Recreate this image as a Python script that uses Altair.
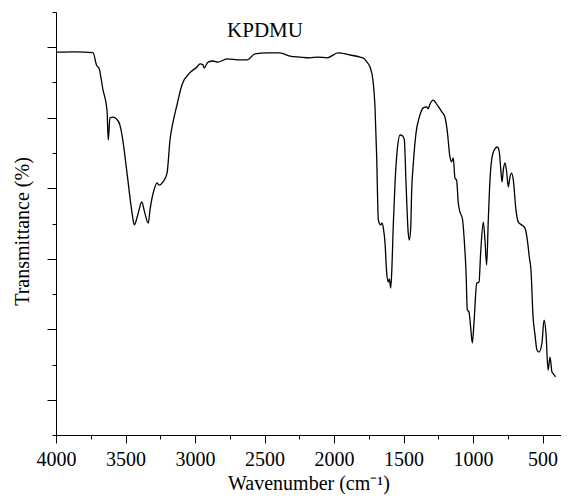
import altair as alt
import pandas as pd

# Wavenumber (cm^-1) and transmittance (arbitrary %)
wavenumber = [4000, 3863, 3734, 3707, 3691, 3662, 3633, 3624, 3612, 3590, 3563, 3540, 3525,
              3489, 3453, 3437, 3410, 3383, 3363, 3336, 3324, 3295, 3273, 3259, 3230,
              3201, 3180, 3158, 3130, 3094, 3036, 2986, 2964, 2942, 2935, 2906, 2871,
              2835, 2770, 2676, 2626, 2568, 2482, 2389, 2317, 2245, 2173, 2115, 2050,
              1971, 1885, 1813, 1784, 1763, 1741, 1720, 1705, 1693, 1681, 1664, 1655,
              1645, 1633, 1621, 1609, 1602, 1592, 1585, 1573, 1561, 1545, 1525, 1506,
              1494, 1482, 1466, 1458, 1448, 1441, 1429, 1410, 1386, 1358, 1333, 1324,
              1309, 1288, 1252, 1223, 1202, 1186, 1166, 1154, 1142, 1130, 1118, 1106,
              1094, 1076, 1063, 1050, 1041, 1029, 1017, 1005, 993, 973, 957, 945, 926,
              914, 902, 890, 878, 866, 847, 825, 811, 801, 791, 782, 770, 758, 746, 734,
              722, 710, 691, 674, 650, 626, 609, 595, 583, 568, 554, 540, 525, 504, 489,
              475, 460, 446, 432, 421, 406]
transmittance = [108.6, 108.7, 108.5, 104.8, 104.1, 97.9, 92.2, 83.7, 89.9, 90.2, 89.6, 87.9, 85.1,
                 74.3, 63.0, 59.6, 62.7, 66.1, 63.3, 60.1, 63.8, 69.5, 71.5, 70.9, 71.8,
                 74.3, 83.7, 88.8, 93.6, 99.3, 102.8, 104.4, 105.3, 105.0, 104.1, 105.8, 106.1,
                 105.8, 106.7, 106.4, 106.4, 108.1, 108.4, 108.4, 107.5, 107.2, 107.0, 107.2, 107.0,
                 108.4, 107.8, 107.2, 106.8, 105.8, 104.4, 100.7, 93.0, 78.9, 61.0, 59.6, 60.1,
                 58.7, 54.5, 46.0, 43.4, 44.3, 41.7, 46.0, 60.1, 71.5, 80.9, 85.1, 84.8,
                 83.7, 71.5, 57.3, 55.3, 59.0, 69.5, 77.2, 85.7, 90.2, 92.8, 93.1, 92.5,
                 93.9, 95.0, 93.3, 91.6, 90.2, 86.5, 78.9, 77.5, 78.6, 72.9, 72.3, 65.8,
                 63.3, 61.3, 55.3, 46.0, 35.5, 34.9, 30.6, 26.1, 31.8, 43.1, 43.4, 51.6, 60.4,
                 55.3, 48.2, 61.0, 72.3, 78.0, 80.9, 81.7, 80.3, 75.7, 71.8, 75.2, 77.2, 74.6, 70.4, 73.2,
                 74.3, 72.3, 63.8, 60.4, 59.6, 58.7, 55.3, 50.5, 46.8, 33.5, 28.4, 24.1, 23.5, 26.1, 32.6,
                 28.9, 18.4, 22.1, 17.9, 17.3, 16.5]

x_major = [4000, 3500, 3000, 2500, 2000, 1500, 1000, 500]
x_minor = [3750, 3250, 2750, 2250, 1750, 1250, 750]
y_major = [10, 30, 50, 70, 90, 110]
y_minor = [0, 20, 40, 60, 80, 100, 120]
sample = "KPDMU"

df = pd.DataFrame({"w": wavenumber, "t": transmittance})
FONT = "Liberation Serif"

xscale = alt.Scale(domain=[367, 4000], reverse=True, nice=False, zero=False)
yscale = alt.Scale(domain=[0, 120], nice=False, zero=False)

common_axis = dict(domainColor="black", tickColor="black", domainWidth=1, tickWidth=1,
                   labelFont=FONT, labelFontSize=20, labelColor="black",
                   titleFont=FONT, titleFontSize=20, titleFontWeight="normal",
                   titleColor="black", grid=False)

line = alt.Chart(df).mark_line(color="black", strokeWidth=1.3, interpolate="monotone").encode(
    x=alt.X("w:Q", scale=xscale,
            axis=alt.Axis(orient="bottom", values=x_major, tickSize=8, format="d",
                          labelFlush=False, labelOverlap=False, labelPadding=6,
                          title="Wavenumber (cm⁻¹)", titlePadding=4, **common_axis)),
    y=alt.Y("t:Q", scale=yscale,
            axis=alt.Axis(orient="left", values=y_major, tickSize=9, labels=False,
                          title="Transmittance (%)", titlePadding=14, titleY=219,
                          **common_axis)),
    order="w:O",
)

minor = alt.Chart(df).mark_line(strokeOpacity=0).encode(
    x=alt.X("w:Q", scale=xscale,
            axis=alt.Axis(orient="bottom", values=x_minor, tickSize=4, labels=False,
                          domain=False, title=None, **common_axis)),
    y=alt.Y("t:Q", scale=yscale,
            axis=alt.Axis(orient="left", values=y_minor, tickSize=4, labels=False,
                          domain=False, title=None, **common_axis)),
)

label = alt.Chart(pd.DataFrame({"s": [sample]})).mark_text(
    font=FONT, fontSize=21, color="black", baseline="alphabetic", align="center"
).encode(text="s:N", x=alt.value(209), y=alt.value(25))

chart = alt.layer(line, minor, label).resolve_axis(
    x="independent", y="independent"
).properties(
    width=505, height=423, autosize="none",
    padding={"left": 48, "top": 4, "right": 0, "bottom": 61},
).configure_view(stroke=None)

chart.save("out.html", embed_options={"renderer": "svg", "actions": False})
